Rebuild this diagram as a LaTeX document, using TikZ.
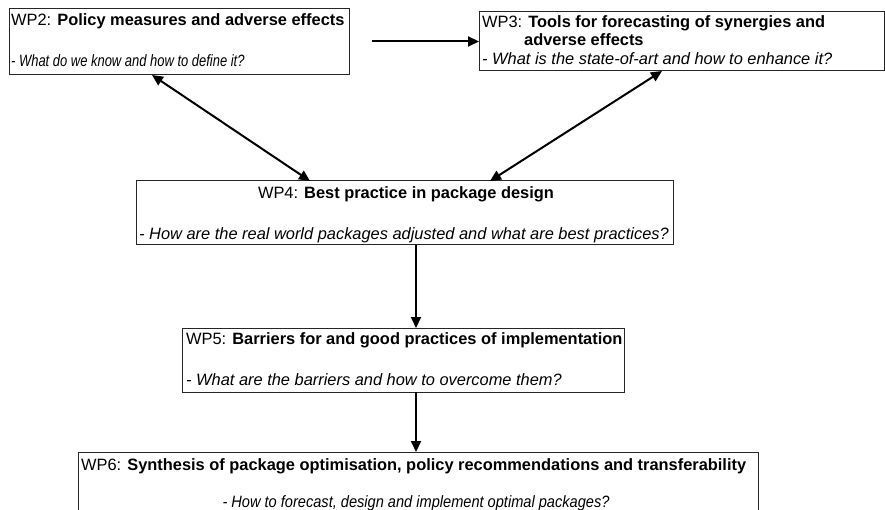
\documentclass[tikz,border=0pt]{standalone}
\usepackage{fontspec}
\usepackage{graphicx}
\setmainfont{Liberation Sans}
\usetikzlibrary{arrows.meta,calc}
\begin{document}
\begin{tikzpicture}[x=1pt,y=-1pt,
  wpbox/.style={draw=black!85, line width=1pt, rectangle, inner sep=0pt, outer sep=0pt, anchor=north west},
  txt/.style={inner sep=0pt, anchor=base west, font=\fontsize{16.4}{19}\selectfont},
  qtxt/.style={inner sep=0pt, anchor=base west, font=\fontsize{16.4}{19}\selectfont\itshape},
  conn/.style={line width=2pt, -{Triangle[length=11pt,width=10pt]}},
  conn2/.style={line width=2pt, {Triangle[length=11pt,width=10pt]}-{Triangle[length=11pt,width=10pt]}}]
\useasboundingbox (0,0) rectangle (885,510);
\clip (0,0) rectangle (885,510);
\fill[white] (0,0) rectangle (885,510);

% boxes
\node[wpbox, minimum width=340pt, minimum height=66pt] (wp2) at (9,9) {};
\node[wpbox, minimum width=405pt, minimum height=59pt] (wp3) at (479,12) {};
\node[wpbox, minimum width=537pt, minimum height=64pt] (wp4) at (136,181) {};
\node[wpbox, minimum width=442pt, minimum height=64pt] (wp5) at (182,328) {};
\node[wpbox, minimum width=680pt, minimum height=80pt] (wp6) at (78,452) {};

% texts
\node[txt] (t2a) at (11,26) {WP2: \textbf{Policy measures and adverse effects}};
\node[qtxt] (t2b) at (11,67) {\scalebox{0.79}[1]{- What do we know and how to define it?}};

\node[txt] (t3a) at (482,28) {WP3: \textbf{Tools for forecasting of synergies and}};
\node[txt] (t3b) at (524,46) {\textbf{adverse effects}};
\node[qtxt] (t3c) at (482,65) {- What is the state-of-art and how to enhance it?};

\node[txt, anchor=base] (t4a) at (406,199) {WP4: \textbf{Best practice in package design}};
\node[qtxt] (t4b) at (139,240) {- How are the real world packages adjusted and what are best practices?};

\node[txt] (t5a) at (186,344) {WP5: \textbf{Barriers for and good practices of implementation}};
\node[qtxt] (t5b) at (186,385) {- What are the barriers and how to overcome them?};

\node[txt] (t6a) at (81,470) {WP6: \textbf{Synthesis of package optimisation, policy recommendations and transferability}};
\node[qtxt, anchor=base] (t6b) at (416,507) {\scalebox{0.89}[1]{- How to forecast, design and implement optimal packages?}};

% connectors
\coordinate (cx) at (416,0);
\coordinate (d1) at (152,0);
\coordinate (d2) at (310,0);
\coordinate (d3) at (662,0);
\coordinate (d4) at (490,0);
\draw[conn, shorten <=23pt] (wp3.west -| wp2.east) -- (wp3.west);
\draw[conn2] (wp2.south -| d1) -- (wp4.north -| d2);
\draw[conn2] (wp3.south -| d3) -- (wp4.north -| d4);
\draw[conn] (wp4.south -| cx) -- (wp5.north -| cx);
\draw[conn] (wp5.south -| cx) -- (wp6.north -| cx);
\end{tikzpicture}
\end{document}
